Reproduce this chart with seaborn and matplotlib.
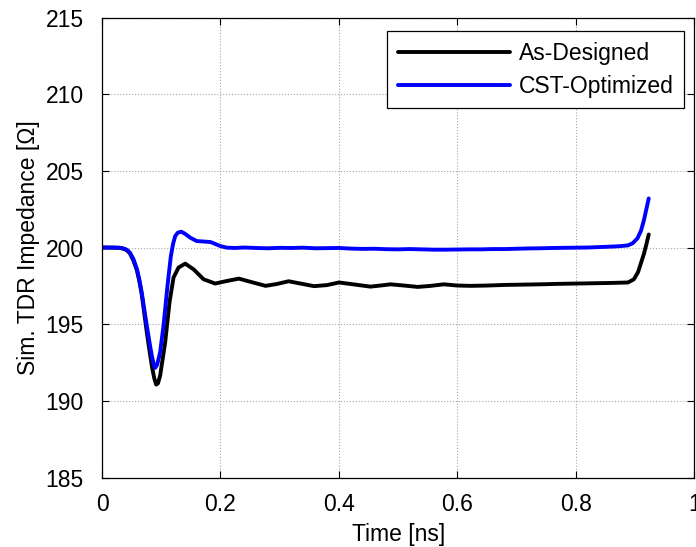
import matplotlib
matplotlib.use("Agg")
import matplotlib.pyplot as plt
import seaborn as sns
import pandas as pd

# ---- data ----
t_blue = [0.000, 0.020, 0.030, 0.038, 0.043, 0.047, 0.053, 0.059, 0.063, 0.067,
          0.071, 0.0756, 0.080, 0.084, 0.0875, 0.0897, 0.093, 0.0981, 0.1038, 0.1105,
          0.1162, 0.120, 0.1235, 0.128, 0.1337, 0.140, 0.149, 0.160, 0.183, 0.200,
          0.211, 0.225, 0.240, 0.260, 0.280, 0.300, 0.320, 0.340, 0.360, 0.380,
          0.400, 0.420, 0.440, 0.460, 0.480, 0.500, 0.520, 0.540, 0.560, 0.580,
          0.600, 0.620, 0.640, 0.660, 0.680, 0.700, 0.720, 0.740, 0.760, 0.780,
          0.800, 0.820, 0.840, 0.860, 0.875, 0.888, 0.896, 0.904, 0.910, 0.915,
          0.919, 0.923]
z_blue = [200.00, 200.00, 199.98, 199.92, 199.82, 199.67, 199.25, 198.58, 197.90, 197.07,
          196.05, 194.90, 193.85, 192.95, 192.35, 192.15, 192.35, 193.17, 194.90, 197.50,
          199.44, 200.25, 200.74, 200.97, 201.03, 200.90, 200.64, 200.42, 200.36, 200.09,
          199.99, 199.97, 200.00, 199.97, 199.95, 199.98, 199.97, 199.99, 199.95, 199.96,
          199.97, 199.93, 199.91, 199.92, 199.89, 199.88, 199.90, 199.88, 199.86, 199.86,
          199.87, 199.88, 199.88, 199.90, 199.90, 199.92, 199.94, 199.95, 199.97, 199.98,
          199.99, 200.00, 200.03, 200.06, 200.09, 200.14, 200.28, 200.60, 201.10, 201.80,
          202.50, 203.20]

t_black = [0.000, 0.030, 0.038, 0.043, 0.047, 0.053, 0.059, 0.063, 0.067, 0.071,
           0.0756, 0.080, 0.084, 0.088, 0.0914, 0.0945, 0.0981, 0.1066, 0.1139, 0.1207,
           0.1291, 0.1404, 0.1545, 0.1714, 0.191, 0.211, 0.231, 0.251, 0.276, 0.295,
           0.315, 0.335, 0.358, 0.380, 0.400, 0.420, 0.453, 0.470, 0.487, 0.510,
           0.533, 0.555, 0.577, 0.600, 0.623, 0.650, 0.680, 0.710, 0.740, 0.770,
           0.800, 0.830, 0.860, 0.888, 0.898, 0.905, 0.910, 0.915, 0.919, 0.923]
z_black = [200.00, 199.98, 199.90, 199.78, 199.62, 199.15, 198.50, 197.80, 196.95, 195.80,
           194.47, 193.30, 192.30, 191.50, 191.06, 191.15, 191.65, 193.82, 196.42, 198.04,
           198.69, 198.95, 198.58, 197.93, 197.65, 197.82, 197.97, 197.76, 197.50, 197.62,
           197.80, 197.65, 197.48, 197.55, 197.72, 197.62, 197.45, 197.52, 197.60, 197.52,
           197.43, 197.50, 197.60, 197.52, 197.50, 197.52, 197.56, 197.58, 197.60, 197.63,
           197.65, 197.67, 197.69, 197.72, 197.93, 198.40, 199.00, 199.60, 200.20, 200.85]

series_names = ["As-Designed", "CST-Optimized"]
series_colors = ["black", "#0000ff"]
x_ticks = [0, 0.2, 0.4, 0.6, 0.8, 1]
x_tick_labels = ["0", "0.2", "0.4", "0.6", "0.8", "1"]
y_ticks = [185, 190, 195, 200, 205, 210, 215]

df = pd.concat([
    pd.DataFrame({"t": t_black, "z": z_black, "series": series_names[0]}),
    pd.DataFrame({"t": t_blue, "z": z_blue, "series": series_names[1]}),
], ignore_index=True)

sns.set_style("ticks")
plt.rcParams["font.family"] = ["Liberation Sans", "DejaVu Sans"]
plt.rcParams["text.color"] = "black"
plt.rcParams["axes.labelcolor"] = "black"
FS = 16.5
plt.rcParams["font.size"] = FS

fig = plt.figure(figsize=(6.96, 5.47), dpi=100)
ax = fig.add_axes([0.1466, 0.127, 0.851, 0.841])

sns.lineplot(data=df, x="t", y="z", hue="series", hue_order=series_names,
             palette=series_colors, linewidth=2.8, ax=ax, sort=False,
             estimator=None, legend=True)

ax.set_xlim(0, 1)
ax.set_ylim(185, 215)
ax.set_xticks(x_ticks)
ax.set_xticklabels(x_tick_labels)
ax.set_yticks(y_ticks)
ax.tick_params(direction="in", top=True, right=True, labelsize=FS,
               length=5, width=0.8, colors="black", labelcolor="black")
ax.tick_params(axis="x", pad=11)
ax.tick_params(axis="y", pad=13)
for s in ax.spines.values():
    s.set_visible(True)
    s.set_color("black")
    s.set_linewidth(0.9)
ax.grid(True, linestyle=":", color="#a8a8a8", linewidth=0.8)

ax.set_xlabel("Time [ns]", fontsize=FS, labelpad=5, color="black")
ax.set_ylabel("Sim. TDR Impedance [Ω]", fontsize=FS, labelpad=4, color="black")

leg = ax.legend(loc="upper right", bbox_to_anchor=(0.983, 0.970),
                borderaxespad=0, fancybox=False, edgecolor="black",
                framealpha=1, fontsize=FS, handlelength=4.9,
                handletextpad=0.4, borderpad=0.45, labelspacing=0.45)
leg.get_frame().set_linewidth(0.9)
for line in leg.get_lines():
    line.set_linewidth(2.8)
for txt in leg.get_texts():
    txt.set_color("black")

fig.savefig("out.png", dpi=100)
